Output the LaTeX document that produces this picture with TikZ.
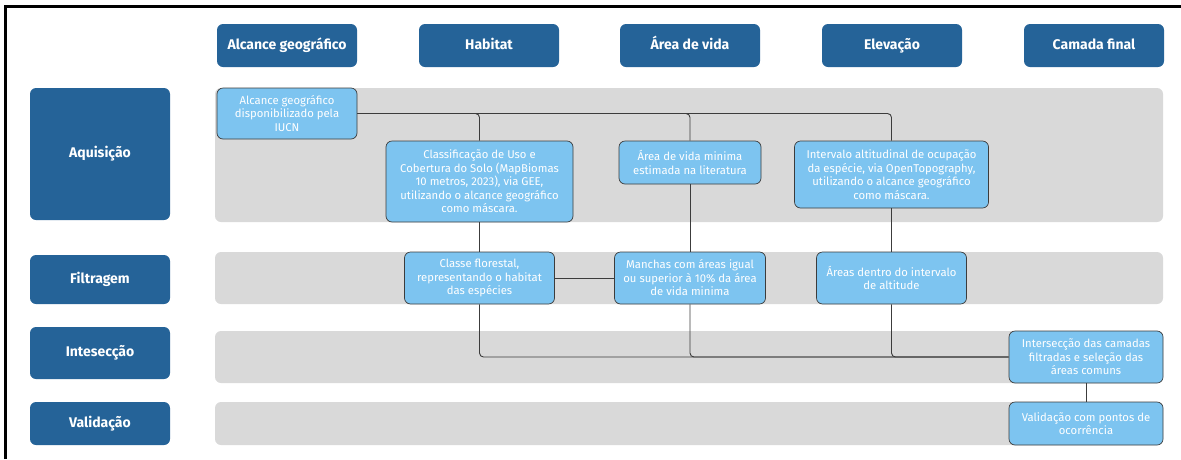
\documentclass[tikz,border=0pt]{standalone}
\usepackage{fontspec}
\setmainfont{Fira Sans}
\usetikzlibrary{arrows.meta}

\definecolor{darkblue}{RGB}{37,99,152}
\definecolor{lightblue}{RGB}{125,196,240}
\definecolor{bandgray}{RGB}{217,217,217}
\definecolor{wire}{RGB}{60,60,60}

\begin{document}
\begin{tikzpicture}[x=1pt,y=-1pt,
    head/.style={fill=darkblue, rounded corners=6pt, text=white, inner sep=0pt,
      font=\fontsize{14}{16}\selectfont\bfseries, text height=10pt, text depth=3pt,
      minimum width=140pt, minimum height=43pt},
    stepbox/.style={draw=wire, line width=0.7pt, fill=lightblue, rounded corners=6pt,
      text=white, align=center, inner sep=0pt, font=\fontsize{11.3}{13.5}\selectfont},
    link/.style={draw=wire, line width=0.9pt, rounded corners=4pt}]
      \useasboundingbox (0,0) rectangle (1181,459);
      \draw[line width=3pt] (5.5,459) -- (5.5,6.5) -- (1181,6.5);

      \fill[bandgray, rounded corners=6pt] (215,88) rectangle (1163,222);
      \fill[bandgray, rounded corners=6pt] (215,252) rectangle (1163,304);
      \fill[bandgray, rounded corners=6pt] (215,331) rectangle (1163,383);
      \fill[bandgray, rounded corners=6pt] (215,402) rectangle (1163,445);

      \node[head] (alcance) at (287,45.5) {Alcance geográfico};
      \node[head] (habitat) at (489,45.5) {Habitat};
      \node[head] (areavida) at (690,45.5) {Área de vida};
      \node[head] (elevacao) at (892,45.5) {Elevação};
      \node[head] (camada) at (1094,45.5) {Camada final};

      \node[head, minimum height=132pt] (aquisicao) at (100,154) {Aquisição};
      \node[head, minimum height=49pt] (filtragem) at (100,279.5) {Filtragem};
      \node[head, minimum height=52pt] (intesec) at (100,353) {Intesecção};
      \node[head, minimum height=43pt] (validacao) at (100,423.5) {Validação};

      \node[stepbox, minimum width=140pt, minimum height=51pt] (iucn) at (287,113.5)
        {Alcance geográfico\\disponibilizado pela\\IUCN};
      \node[stepbox, minimum width=187pt, minimum height=81pt] (uso) at (479.5,181.5)
        {Classificação de Uso e\\Cobertura do Solo (MapBiomas\\10 metros, 2023), via GEE,\\utilizando o alcance geográfico\\como máscara.};
      \node[stepbox, minimum width=142pt, minimum height=43pt] (minima) at (690,162.5)
        {Área de vida minima\\estimada na literatura};
      \node[stepbox, minimum width=194pt, minimum height=67pt] (altitud) at (891.5,174.5)
        {Intervalo altitudinal de ocupação\\da espécie, via OpenTopography,\\utilizando o alcance geográfico\\como máscara.};
      \node[stepbox, minimum width=150pt, minimum height=52pt] (florestal) at (479.5,278)
        {Classe florestal,\\representando o habitat\\das espécies};
      \node[stepbox, minimum width=151pt, minimum height=52pt] (manchas) at (690,278)
        {Manchas com áreas igual\\ou superior à 10\% da área\\de vida minima};
      \node[stepbox, minimum width=150pt, minimum height=52pt] (intervalo) at (891.5,278)
        {Áreas dentro do intervalo\\de altitude};
      \node[stepbox, minimum width=154pt, minimum height=52pt] (comuns) at (1086,357)
        {Intersecção das camadas\\filtradas e seleção das\\áreas comuns};
      \node[stepbox, minimum width=154pt, minimum height=43pt] (pontos) at (1086,423.5)
        {Validação com pontos de\\ocorrência};

      \draw[link] (iucn.east) -| (uso.north);
      \draw[link] (iucn.east) -| (minima.north);
      \draw[link] (iucn.east) -| (altitud.north);
      \draw[link] (uso.south) -- (florestal.north);
      \draw[link] (minima.south) -- (manchas.north);
      \draw[link] (altitud.south) -- (intervalo.north);
      \draw[link] (florestal.east) -- (manchas.west);
      \draw[link] (florestal.south) |- (comuns.west);
      \draw[link] (manchas.south) |- (comuns.west);
      \draw[link] (intervalo.south) |- (comuns.west);
      \draw[link] (comuns.south) -- (pontos.north);
    \end{tikzpicture}
\end{document}
